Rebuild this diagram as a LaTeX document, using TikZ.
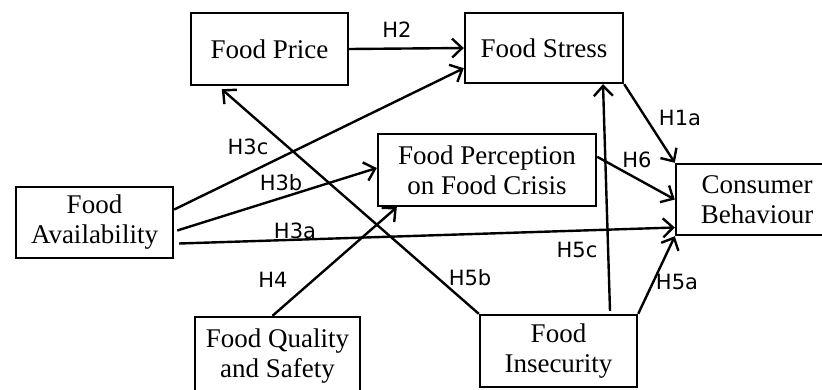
\documentclass[tikz,border=0pt]{standalone}
\usepackage{fontspec}
\setmainfont{Liberation Serif}
\newfontfamily\hlabfont{DejaVu Sans}
\usetikzlibrary{positioning,calc,arrows.meta}
\tikzstyle{factor}= [rectangle, draw, line width=2.4pt, inner sep=0pt, align=center, font=\fontsize{27}{30}\selectfont]
\tikzstyle{hyp}= [line width=2.4pt, -{Straight Barb[length=10pt,width=19pt,line width=2.4pt]}]
\tikzstyle{hlab}= [inner sep=0pt, font=\hlabfont\fontsize{21}{21}\selectfont]

\begin{document}
\begin{tikzpicture}[x=1pt, y=-1pt]
				\clip (0, 0) rectangle (822, 389);
				\fill[white] (0, 0) rectangle (822, 389);
				\node[factor, minimum width=157pt, minimum height=72pt] (price) at (269.5, 49) {Food Price};
				\node[factor, minimum width=158pt, minimum height=70pt] (stress) at (544, 48) {Food Stress};
				\node[factor, minimum width=218pt, minimum height=72pt] (percep) at (487, 170) {Food Perception\\on Food Crisis};
				\node[factor, minimum width=162pt, minimum height=71pt] (consumer) at (757, 199.5) {Consumer\\Behaviour};
				\node[factor, minimum width=157pt, minimum height=71pt] (avail) at (94.5, 222.5) {Food\\Availability};
				\node[factor, minimum width=165pt, minimum height=84pt, text depth=12pt] (quality) at (277.5, 359) {Food Quality\\and Safety};
				\node[factor, minimum width=157pt, minimum height=72pt] (insec) at (558.5, 351) {Food\\Insecurity};
				\draw[hyp] (price.east) -- (stress.west);
				\draw[hyp] ($(avail.east)+(0,-13)$) -- ($(stress.south west)+(0,-16)$);
				\draw[hyp] ($(avail.east)+(3,8)$) -- ($(percep.west)+(0,-2)$);
				\draw[hyp] ($(avail.east)+(5,21)$) -- ($(consumer.west)+(0,28)$);
				\draw[hyp] ($(quality.north)+(-5,0)$) -- ($(percep.south west)+(20,0)$);
				\draw[hyp] (insec.north west) -- ($(price.south west)+(32,3)$);
				\draw[hyp] ($(insec.north)+(51.5,-3)$) -- ($(stress.south)+(59,0)$);
				\draw[hyp] (insec.north east) -- (consumer.south west);
				\draw[hyp] (stress.south east) -- (consumer.north west);
				\draw[hyp] ($(percep.north east)+(0,24)$) -- (consumer.west);
				\node[hlab] (h2) at (397, 30) {H2};
				\node[hlab] (h3c) at (248, 147) {H3c};
				\node[hlab] (h3b) at (281, 183) {H3b};
				\node[hlab] (h3a) at (295, 231) {H3a};
				\node[hlab] (h4) at (273, 280) {H4};
				\node[hlab] (h5b) at (470, 278) {H5b};
				\node[hlab] (h5c) at (577, 250) {H5c};
				\node[hlab] (h5a) at (677, 282) {H5a};
				\node[hlab] (h1a) at (680, 118) {H1a};
				\node[hlab] (h6) at (637, 160) {H6};
			\end{tikzpicture}
\end{document}
